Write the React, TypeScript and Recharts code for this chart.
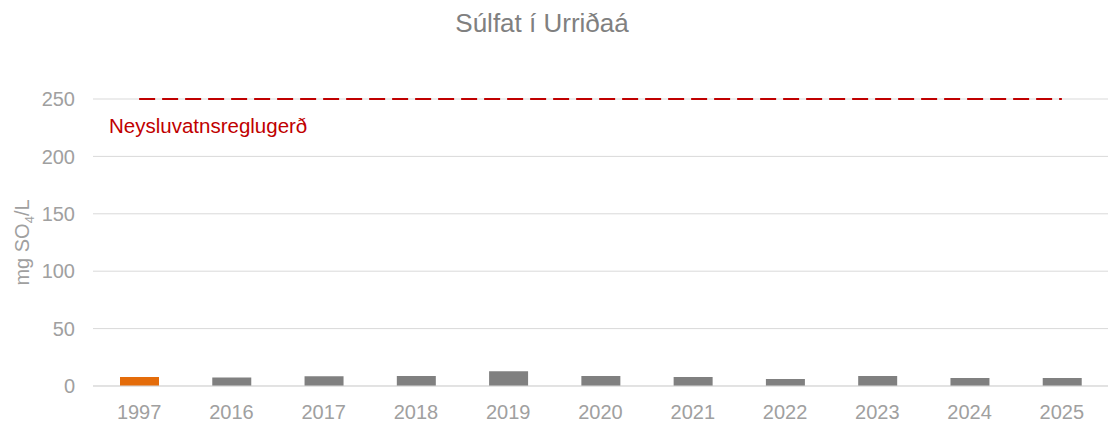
import React from "react";
import { ComposedChart, Bar, Line, XAxis, YAxis, CartesianGrid, Cell, Customized } from "recharts";

const years = ["1997", "2016", "2017", "2018", "2019", "2020", "2021", "2022", "2023", "2024", "2025"];
const sulfate = [7.8, 7.5, 8.4, 8.7, 12.8, 8.7, 7.8, 6.1, 8.7, 7.0, 7.0];
const limit = [250, 250, 250, 250, 250, 250, 250, 250, 250, 250, 250];
const yTicks = [0, 50, 100, 150, 200, 250];

const GRID = "#D9D9D9";
const TEXT = "#A0A0A0";
const TITLE = "#808080";
const BAR = "#808080";
const FIRST = "#E46C0A";
const RED = "#C00000";
const FONT = "'Liberation Sans', Arial, sans-serif";

const data = years.map((year, i) => ({ year, sulfate: sulfate[i], limit: limit[i] }));

const YLabel = ({ viewBox }: any) => {
  const cy = viewBox.y + viewBox.height / 2;
  return (
    <text
      x={0}
      y={0}
      transform={`translate(29, ${cy}) rotate(-90)`}
      textAnchor="middle"
      fill={TEXT}
      fontSize={20}
      fontFamily={FONT}
    >
      mg SO<tspan fontSize={13} dy={5}>4</tspan>
      <tspan dy={-5}>/L</tspan>
    </text>
  );
};

const Annotations = () => (
  <g>
    <text x={542} y={32} textAnchor="middle" fill={TITLE} fontSize={26} fontFamily={FONT}>
      Súlfat í Urriðaá
    </text>
    <text x={109} y={133} fill={RED} fontSize={20.5} fontFamily={FONT}>
      Neysluvatnsreglugerð
    </text>
  </g>
);

export default function App() {
  return (
    <div style={{ position: "absolute", left: 0, top: 0, width: 1110, height: 423, background: "#fff" }}>
      <ComposedChart width={1110} height={423} data={data} margin={{ top: 99, right: 2, bottom: 0, left: 0 }}>
        <CartesianGrid stroke={GRID} vertical={false} />
        <XAxis
          dataKey="year"
          height={37}
          axisLine={{ stroke: GRID }}
          tickLine={false}
          tick={{ fill: TEXT, fontSize: 20, fontFamily: FONT }}
          tickMargin={13}
        />
        <YAxis
          width={93}
          domain={[0, 250]}
          ticks={yTicks}
          axisLine={false}
          tickLine={false}
          tick={{ fill: TEXT, fontSize: 20, fontFamily: FONT }}
          tickMargin={12}
          label={<YLabel />}
        />
        <Bar dataKey="sulfate" barSize={39} isAnimationActive={false}>
          {data.map((d, i) => (
            <Cell key={d.year} fill={i === 0 ? FIRST : BAR} />
          ))}
        </Bar>
        <Line
          dataKey="limit"
          stroke={RED}
          strokeWidth={2}
          strokeDasharray="16 7"
          dot={false}
          isAnimationActive={false}
        />
        <Customized component={Annotations} />
      </ComposedChart>
    </div>
  );
}
